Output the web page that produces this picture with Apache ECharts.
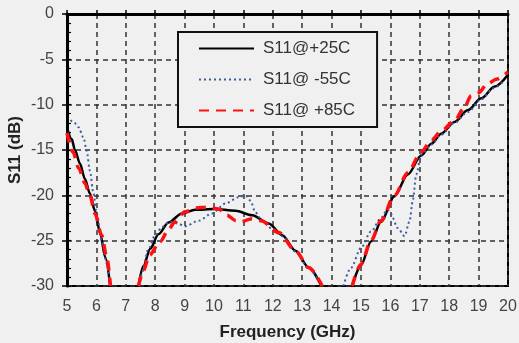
<!DOCTYPE html>
<html>
<head>
<meta charset="utf-8">
<script src="https://cdn.jsdelivr.net/npm/echarts@6/dist/echarts.min.js"></script>
<style>
    html, body { margin: 0; padding: 0; background: #f0f0f0; }
    #chart { width: 519px; height: 343px; }
</style>
</head>
<body>
<div id="chart"></div>
<script>
// legend names
var seriesNames = ['S11@+25C', 'S11@ -55C', 'S11@ +85C'];

// axis ranges / ticks
var freqMin = 5, freqMax = 20, freqStep = 1;
var dbMin = -30, dbMax = 0, dbStep = 5;

// S11 @ +25C  [GHz, dB]   ('-' breaks the line where it drops below -30)
var s11_p25 = [
    [5, -12.5], [5.16, -13.8], [5.27, -15.0], [5.44, -16.5], [5.61, -18.2], [5.78, -19.8],
    [5.95, -21.7], [6.13, -24.2], [6.3, -26.8], [6.47, -30],
    [7, '-'],
    [7.43, -30], [7.6, -27.8], [7.83, -25.9], [8.11, -24.3], [8.45, -23.0], [8.91, -22.0],
    [9.36, -21.6], [10, -21.5], [10.73, -21.7], [11.3, -22.2], [11.86, -23.1], [12.32, -24.4],
    [12.77, -26.1], [13.23, -28.0], [13.65, -30],
    [14.2, '-'],
    [14.7, -30], [15, -27.7], [15.34, -25.1], [15.68, -22.9], [16.14, -20.1], [16.59, -17.7],
    [17.05, -15.6], [17.39, -14.3], [17.73, -13.2], [18.18, -11.9], [18.64, -10.6],
    [19.09, -9.3], [19.55, -8.0], [20, -6.7]
];

// S11 @ -55C
var s11_m55 = [
    [5.12, -11.7], [5.25, -12.0], [5.39, -12.5], [5.56, -13.6], [5.67, -15.1], [5.78, -17.3],
    [5.9, -19.8], [6.01, -22.0], [6.18, -25.0], [6.35, -27.5], [6.47, -30],
    [7, '-'],
    [7.47, -30], [7.55, -28.5], [7.77, -25.9], [8.0, -24.4], [8.23, -23.5], [8.5, -22.9],
    [8.75, -23.1], [9.02, -23.4], [9.48, -22.8], [9.93, -22.0], [10.39, -20.9], [10.84, -20.2],
    [11.07, -20.0], [11.24, -20.6], [11.41, -21.9], [11.64, -22.8], [11.98, -23.7],
    [12.32, -24.5], [12.77, -26.2], [13.23, -28.1], [13.65, -30],
    [14.1, '-'],
    [14.4, -30], [14.66, -28.0], [15, -25.8], [15.34, -24.0], [15.68, -22.5], [15.9, -21.6],
    [16.02, -22.1], [16.25, -23.6], [16.48, -24.5], [16.65, -22.9], [16.76, -20.6],
    [16.88, -17.7], [17.05, -15.5], [17.4, -14.4], [17.73, -13.3], [18.18, -12.0],
    [18.64, -10.8], [19.09, -9.4], [19.5, -8.2], [19.85, -7.4]
];

// S11 @ +85C
var s11_p85 = [
    [5, -13.1], [5.2, -15.2], [5.4, -17.0], [5.6, -18.6], [5.78, -20.0], [5.95, -22.0],
    [6.18, -24.4], [6.35, -26.8], [6.48, -30],
    [7, '-'],
    [7.43, -30], [7.6, -28.3], [7.8, -26.6], [8.17, -25.1], [8.45, -23.8], [8.65, -23.0],
    [9.02, -21.8], [9.4, -21.4], [9.76, -21.3], [10.16, -21.5], [10.44, -22.2], [10.75, -22.8],
    [10.95, -22.9], [11.24, -22.6], [11.6, -22.8], [12.2, -24.1], [12.77, -26.1],
    [13.23, -28.0], [13.68, -30],
    [14.2, '-'],
    [14.7, -30], [15, -27.6], [15.34, -25.0], [15.68, -22.8], [16.14, -20.0], [16.59, -17.5],
    [17.05, -15.2], [17.4, -13.9], [17.73, -12.9], [18.2, -11.7], [18.5, -10.4],
    [18.75, -9.0], [19.0, -8.7], [19.3, -7.7], [19.6, -7.2], [20, -6.4]
];

var font = '"Liberation Sans", Arial, sans-serif';

var dashGrid = {
    show: true,
    lineStyle: { color: '#333', width: 1.5, type: [5, 4] }
};

var my_chart = echarts.init(document.getElementById('chart'));

var option = {
    animation: false,
    backgroundColor: '#f0f0f0',
    textStyle: { fontFamily: font },
    grid: {
        left: 67, right: 11, top: 14, bottom: 57,
        outerBoundsMode: 'none',
        // frame (right side mostly)
        show: true,
        borderColor: '#000',
        borderWidth: 2
    },
    legend: {
        data: seriesNames,
        orient: 'vertical',
        left: 178,
        top: 32,
        itemWidth: 55,
        itemHeight: 16,
        itemGap: 14,
        padding: [8, 22, 8, 20],
        backgroundColor: '#f0f0f0',
        borderColor: '#111',
        borderWidth: 2,
        borderRadius: 0,
        // hide the symbol in the legend, keep only the line sample
        itemStyle: { opacity: 0 },
        textStyle: { fontSize: 17, color: '#333', fontFamily: font, padding: [0, 0, 0, 4] }
    },
    xAxis: [
        {
            type: 'value',
            position: 'bottom',
            min: freqMin,
            max: freqMax,
            interval: freqStep,
            name: 'Frequency (GHz)',
            nameLocation: 'middle',
            nameGap: 38,
            nameTextStyle: { fontSize: 17, fontWeight: 'bold', color: '#222' },
            axisLine: { lineStyle: { color: '#000', width: 3 } },
            axisTick: { show: false },
            axisLabel: { fontSize: 16, color: '#444', margin: 13 },
            splitLine: dashGrid
        },
        {
            // top border with small outward ticks
            type: 'value',
            position: 'top',
            min: freqMin,
            max: freqMax,
            interval: freqStep,
            axisLine: { lineStyle: { color: '#000', width: 2 } },
            axisTick: { show: true, length: 4, lineStyle: { color: '#000', width: 1.5 } },
            axisLabel: { show: false },
            splitLine: { show: false }
        }
    ],
    yAxis: [
        {
            type: 'value',
            position: 'left',
            min: dbMin,
            max: dbMax,
            interval: dbStep,
            name: 'S11 (dB)',
            nameLocation: 'middle',
            nameGap: 43,
            nameMoveOverlap: false,
            nameTextStyle: { fontSize: 17, fontWeight: 'bold', color: '#222' },
            axisLine: { lineStyle: { color: '#000', width: 3 } },
            axisTick: { show: true, length: 5, lineStyle: { color: '#000', width: 1.5 } },
            axisLabel: { fontSize: 16, color: '#444', margin: 13 },
            splitLine: dashGrid
        },
        {
            // a 'right' axis pulled back onto the left edge: its outward ticks
            // point into the plot, giving the small 1 dB marks
            type: 'value',
            position: 'right',
            offset: -441,
            min: dbMin,
            max: dbMax,
            interval: dbStep,
            axisLine: { show: false, onZero: false },
            axisTick: { show: true, inside: false, length: 4, lineStyle: { color: '#000', width: 1.2 } },
            minorTick: { show: true, splitNumber: 5, length: 4, lineStyle: { color: '#000', width: 1.2 } },
            axisLabel: { show: false },
            splitLine: { show: false }
        }
    ],
    series: [
        {
            name: seriesNames[0],
            type: 'line',
            data: s11_p25,
            symbol: 'none',
            smooth: 0.3,
            smoothMonotone: 'x',
            z: 3,
            lineStyle: { color: '#000', width: 2.5, type: 'solid' },
            itemStyle: { color: '#000' }
        },
        {
            name: seriesNames[1],
            type: 'line',
            data: s11_m55,
            symbol: 'none',
            smooth: 0.3,
            smoothMonotone: 'x',
            z: 4,
            lineStyle: { color: '#3e5a9e', width: 2, type: [2, 3] },
            itemStyle: { color: '#3e5a9e' }
        },
        {
            name: seriesNames[2],
            type: 'line',
            data: s11_p85,
            symbol: 'none',
            smooth: 0.3,
            smoothMonotone: 'x',
            z: 5,
            lineStyle: { color: '#ff1010', width: 3.5, type: [10, 7] },
            itemStyle: { color: '#ff1010' }
        }
    ]
};

my_chart.setOption(option);
</script>
</body>
</html>
